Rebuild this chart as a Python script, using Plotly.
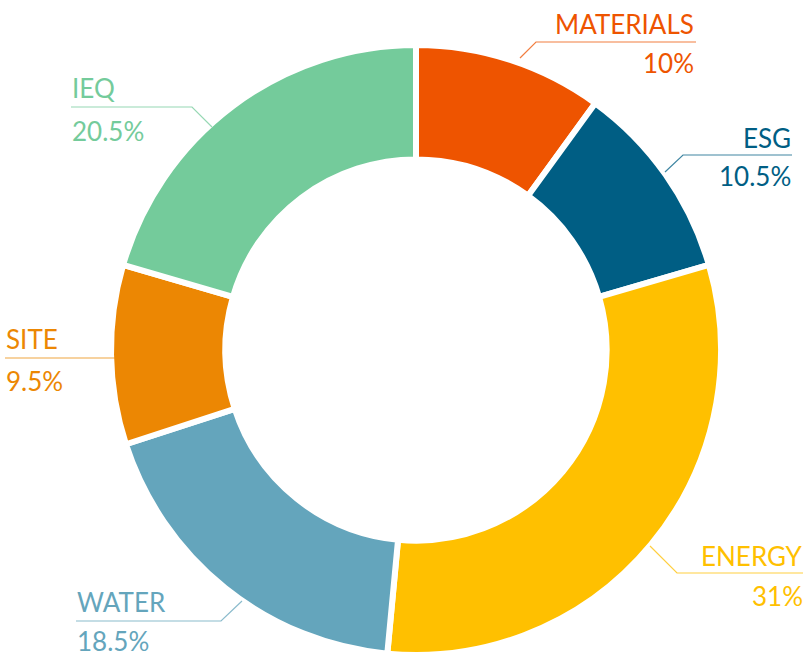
import plotly.graph_objects as go

categories = ["MATERIALS", "ESG", "ENERGY", "WATER", "SITE", "IEQ"]
values = [10, 10.5, 31, 18.5, 9.5, 20.5]
pct_labels = ["10%", "10.5%", "31%", "18.5%", "9.5%", "20.5%"]
colors = ["#EE5400", "#005E84", "#FFC000", "#64A5BC", "#EC8703", "#74CB9B"]

W, H = 808, 655
CX, CY, R = 416, 350, 305

def px(x):
    return x / W

def py(y):
    return 1 - y / H

fig = go.Figure(go.Pie(
    labels=categories, values=values, sort=False, direction="clockwise",
    rotation=0, hole=0.625, textinfo="none", hoverinfo="label+percent",
    marker=dict(colors=colors, line=dict(color="white", width=6)),
    domain=dict(x=[px(CX - R), px(CX + R)], y=[py(CY + R), py(CY - R)]),
    showlegend=False,
))

# label layout: (side, text x, name cap-center y, pct cap-center y, leader polyline in px)
label_layout = {
    "MATERIALS": ("right", 696, 22.5, 61.5, [(520, 58), (536, 42), (696, 42)]),
    "ESG": ("right", 793, 136.5, 174.5, [(665, 172), (683, 155), (792, 155)]),
    "ENERGY": ("right", 805, 554, 594, [(650, 546), (677, 573), (803, 573)]),
    "WATER": ("left", 75, 600.5, 639.5, [(242, 601), (221, 621), (76, 621)]),
    "SITE": ("left", 4, 337.5, 379, [(115, 358), (5, 358)]),
    "IEQ": ("left", 70, 86.5, 129.5, [(212, 127), (192, 107), (71, 107)]),
}

FONT = "Lato"
annotations = []
shapes = []
for cat, pct, col in zip(categories, pct_labels, colors):
    side, tx, ny, pyy, pts = label_layout[cat]
    for txt, yy in ((cat, ny), (pct, pyy)):
        annotations.append(dict(
            x=px(tx), y=py(yy + 1.5), xref="paper", yref="paper", text=txt,
            showarrow=False, xanchor=side, yanchor="middle",
            font=dict(family=FONT, size=26, color=col, weight=400),
        ))
    path = "M " + " L ".join(f"{px(a)},{py(b)}" for a, b in pts)
    shapes.append(dict(type="path", path=path, xref="paper", yref="paper",
                       line=dict(color=col, width=1.2), opacity=0.75))

fig.update_layout(
    width=W, height=H, margin=dict(l=0, r=0, t=0, b=0),
    paper_bgcolor="white", plot_bgcolor="white",
    annotations=annotations, shapes=shapes,
)
fig.write_html("out.html", config={"displayModeBar": False},
               post_script="document.body.style.margin='0';document.body.style.overflow='hidden';")
